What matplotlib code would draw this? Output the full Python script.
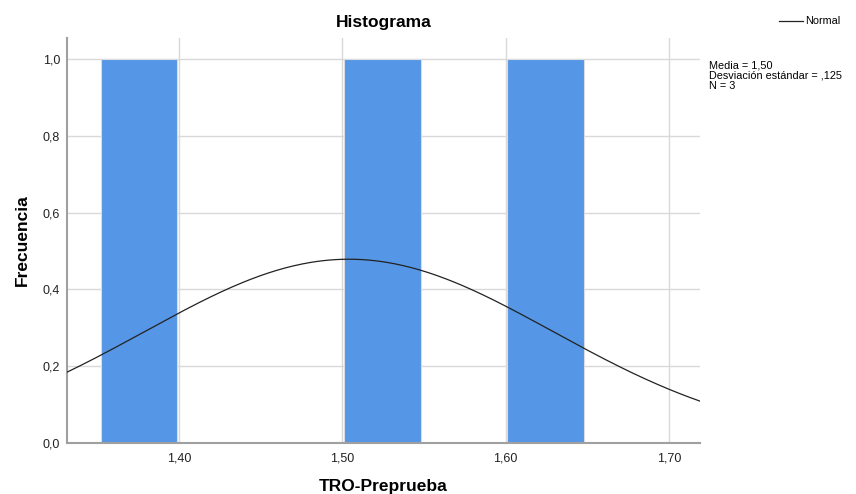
import numpy as np
import matplotlib
matplotlib.use('Agg')
from matplotlib import pyplot as plt

plt.rcParams['font.family'] = ['Liberation Sans', 'DejaVu Sans']

# histogram bars (left edges as drawn), counts, drawn width and bin width
bar_left = [1.352, 1.501, 1.601]
counts = [1, 1, 1]
bar_width = 0.047
bin_width = 0.05

# normal curve parameters
mean = 1.504
std = 0.125
n = 3

x_ticks = [1.40, 1.50, 1.60, 1.70]
x_labels = ['1,40', '1,50', '1,60', '1,70']
y_ticks = [0.0, 0.2, 0.4, 0.6, 0.8, 1.0]
y_labels = ['0,0', '0,2', '0,4', '0,6', '0,8', '1,0']

x_min, x_max = 1.3314, 1.719

fig = plt.figure(figsize=(8.56, 4.94), dpi=100)
ax = fig.add_axes([67 / 856, 51 / 494, 633 / 856, 405 / 494])

ax.set_axisbelow(True)
ax.grid(True, color='#d9d9d9', linewidth=1.0)
ax.bar(bar_left, counts, width=bar_width, align='edge', color='#5596e6',
       edgecolor='#dcdcdc', linewidth=0.8, zorder=2)

xs = np.linspace(x_min, x_max, 300)
pdf = n * bin_width / (std * np.sqrt(2 * np.pi)) * np.exp(-0.5 * ((xs - mean) / std) ** 2)
ax.plot(xs, pdf, color='#222222', linewidth=0.9, zorder=3)

ax.set_xlim(x_min, x_max)
ax.set_ylim(0, 1.055)
ax.set_xticks(x_ticks)
ax.set_xticklabels(x_labels)
ax.set_yticks(y_ticks)
ax.set_yticklabels(y_labels)
ax.tick_params(length=0, labelsize=9, colors='#222222')
ax.tick_params(axis='y', pad=5)
ax.tick_params(axis='x', pad=7)

for s in ['top', 'right']:
    ax.spines[s].set_visible(False)
for s in ['left', 'bottom']:
    ax.spines[s].set_color('#a0a0a0')
    ax.spines[s].set_linewidth(1.5)

ax.set_xlabel('TRO-Preprueba', fontsize=12.5, fontweight='bold', labelpad=10)
ax.set_ylabel('Frecuencia', fontsize=12.5, fontweight='bold', labelpad=9)
ax.set_title('Histograma', fontsize=12.5, fontweight='bold', pad=8)

# legend and stats box at right
fig.lines.append(plt.Line2D([779 / 856, 803 / 856], [1 - 21 / 494, 1 - 21 / 494],
                            color='#222222', linewidth=0.9, transform=fig.transFigure))
fig.text(805 / 856, 1 - 21 / 494, 'Normal', fontsize=7.8, va='center', ha='left')
fig.text(709 / 856, 1 - 60 / 494,
         'Media = 1,50\nDesviación estándar = ,125\nN = 3',
         fontsize=7.8, va='top', ha='left', linespacing=1.05)

fig.savefig('out.png', dpi=100)
